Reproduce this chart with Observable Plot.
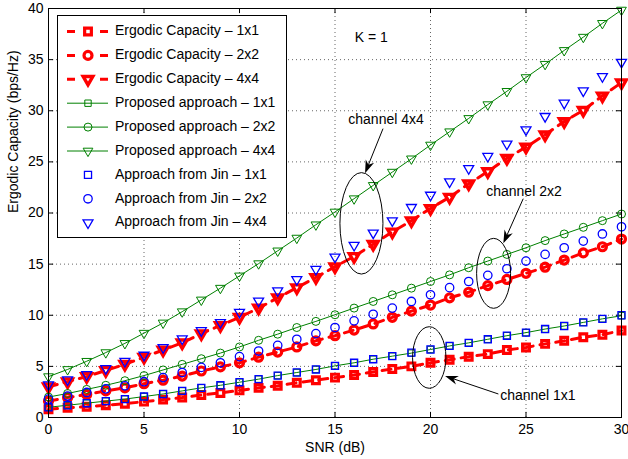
<!DOCTYPE html>
<html><head><meta charset="utf-8">
<script src="https://cdn.jsdelivr.net/npm/d3@7"></script>
<script src="https://cdn.jsdelivr.net/npm/@observablehq/plot@0.6"></script>
<style>
body{margin:0;background:#fff}
svg{font-family:"Liberation Sans",Arial,Helvetica,sans-serif}
</style>
</head><body><div id="chart"></div>
<script>
// ---- data ----
const snr = [0,1,2,3,4,5,6,7,8,9,10,11,12,13,14,15,16,17,18,19,20,21,22,23,24,25,26,27,28,29,30];
const ergodic1x1 = [0.8,0.95,1.05,1.2,1.35,1.55,1.75,1.95,2.2,2.4,2.65,2.9,3.1,3.4,3.65,3.9,4.15,4.45,4.75,5.0,5.35,5.65,5.95,6.2,6.6,6.85,7.2,7.5,7.85,8.1,8.5];
const ergodic2x2 = [1.6,1.95,2.25,2.6,2.9,3.3,3.65,4.05,4.55,4.95,5.35,5.9,6.4,6.9,7.5,8.0,8.55,9.15,9.8,10.4,11.0,11.7,12.25,12.9,13.5,14.1,14.7,15.4,16.1,16.7,17.45];
const ergodic4x4 = [3.0,3.5,4.0,4.6,5.2,5.9,6.6,7.3,8.2,9.0,9.8,10.7,11.7,12.7,13.7,14.75,15.75,16.95,18.15,19.25,20.45,21.55,22.85,24.05,25.35,26.45,27.65,28.95,30.05,31.45,32.75];
const proposed1x1 = [1.0,1.2,1.4,1.6,1.8,2.05,2.3,2.6,2.9,3.15,3.45,3.75,4.1,4.4,4.7,5.05,5.35,5.7,6.0,6.3,6.65,7.0,7.3,7.65,8.0,8.3,8.65,8.95,9.3,9.65,9.95];
const proposed2x2 = [2.0,2.35,2.75,3.15,3.6,4.1,4.65,5.2,5.75,6.3,6.9,7.55,8.15,8.8,9.4,10.05,10.7,11.35,12.0,12.65,13.3,13.95,14.65,15.3,15.95,16.6,17.3,17.95,18.6,19.25,19.9];
const proposed4x4 = [4.0,4.7,5.5,6.35,7.25,8.25,9.25,10.35,11.5,12.65,13.85,15.05,16.3,17.55,18.85,20.1,21.4,22.7,24.0,25.3,26.65,27.95,29.25,30.6,31.9,33.25,34.55,35.9,37.2,38.55,39.85];
const jin1x1 = [1.0,1.2,1.4,1.6,1.8,2.05,2.3,2.6,2.9,3.15,3.45,3.75,4.1,4.4,4.7,5.05,5.35,5.7,6.0,6.35,6.65,7.0,7.3,7.65,8.0,8.3,8.65,8.95,9.3,9.65,10.0];
const jin2x2 = [1.8,2.1,2.45,2.8,3.1,3.5,3.9,4.4,4.9,5.35,5.95,6.5,7.05,7.65,8.2,8.8,9.45,10.1,10.7,11.35,12.0,12.7,13.3,13.9,14.55,15.3,15.95,16.6,17.25,17.95,18.65];
const jin4x4 = [3.2,3.7,4.2,4.8,5.5,6.1,6.85,7.7,8.5,9.3,10.3,11.4,12.4,13.5,14.5,15.7,16.85,18.05,19.25,20.55,21.75,23.05,24.35,25.55,26.75,28.15,29.45,30.75,31.95,33.35,34.75];
const xTicks = [0,5,10,15,20,25,30];
const yTicks = [0,5,10,15,20,25,30,35,40];
const legendLabels = [
  "Ergodic Capacity \u2013 1x1","Ergodic Capacity \u2013 2x2","Ergodic Capacity \u2013 4x4",
  "Proposed approach \u2013 1x1","Proposed approach \u2013 2x2","Proposed approach \u2013 4x4",
  "Approach from Jin \u2013 1x1","Approach from Jin \u2013 2x2","Approach from Jin \u2013 4x4"];
const xLabel = "SNR (dB)";
const yLabel = "Ergodic Capacity (bps/Hz)";
const kLabel = "K = 1";
const channelLabels = ["channel 4x4","channel 2x2","channel 1x1"];

// ---- styles ----
const RED = "#ff0000", GREEN = "#008000", BLUE = "#0000ff";
const FS = 14;
const seriesDefs = [
  {values: ergodic1x1, color: RED, symbol: "square", r: 3.8, sw: 3.2, line: "dash", rotate: 0},
  {values: ergodic2x2, color: RED, symbol: "circle", r: 4, sw: 3.2, line: "dash", rotate: 0},
  {values: ergodic4x4, color: RED, symbol: "triangle", r: 3.6, sw: 3.4, line: "dash", rotate: 180},
  {values: proposed1x1, color: GREEN, symbol: "square", r: 3.6, sw: 1, line: "solid", rotate: 0},
  {values: proposed2x2, color: GREEN, symbol: "circle", r: 4.0, sw: 1, line: "solid", rotate: 0},
  {values: proposed4x4, color: GREEN, symbol: "triangle", r: 3.6, sw: 1, line: "solid", rotate: 180},
  {values: jin1x1, color: BLUE, symbol: "square", r: 4.0, sw: 1.3, line: null, rotate: 0},
  {values: jin2x2, color: BLUE, symbol: "circle", r: 4.2, sw: 1.3, line: null, rotate: 0},
  {values: jin4x4, color: BLUE, symbol: "triangle", r: 3.7, sw: 1.3, line: null, rotate: 180}
];
const rowsOf = (vals) => snr.map((s, i) => ({snr: s, cap: vals[i]}));

const seriesMarks = [];
for (const s of seriesDefs) {
  const data = rowsOf(s.values);
  if (s.line === "dash") seriesMarks.push(Plot.line(data, {x: "snr", y: "cap", stroke: s.color, strokeWidth: 3, strokeDasharray: "9,7"}));
  if (s.line === "solid") seriesMarks.push(Plot.line(data, {x: "snr", y: "cap", stroke: s.color, strokeWidth: 1}));
  seriesMarks.push(Plot.dot(data, {x: "snr", y: "cap", symbol: s.symbol, r: s.r, stroke: s.color, strokeWidth: s.sw, fill: "none", rotate: s.rotate}));
}

const gridStyle = {stroke: "#000", strokeOpacity: 0.6, strokeDasharray: "1,3"};
const plot = Plot.plot({
  width: 628, height: 459,
  marginLeft: 48, marginRight: 7, marginTop: 8, marginBottom: 42,
  style: {fontFamily: '"Liberation Sans",Arial,sans-serif', fontSize: FS + "px", background: "white", overflow: "visible"},
  x: {domain: [0, 30]},
  y: {domain: [0, 40]},
  marks: [
    Plot.gridX({ticks: xTicks, ...gridStyle}),
    Plot.gridY({ticks: yTicks, ...gridStyle}),
    Plot.axisX({ticks: xTicks, tickSize: 0, tickPadding: 7, label: null, fontSize: FS, fill: "#000"}),
    Plot.axisY({ticks: yTicks, tickSize: 0, tickPadding: 5, label: null, fontSize: FS, fill: "#000"}),
    Plot.ruleX(xTicks, {x: d => d, y1: 0, y2: 0.5, stroke: "#000"}),
    Plot.ruleX(xTicks, {x: d => d, y1: 39.5, y2: 40, stroke: "#000"}),
    Plot.ruleY(yTicks, {y: d => d, x1: 0, x2: 0.27, stroke: "#000"}),
    Plot.ruleY(yTicks, {y: d => d, x1: 29.73, x2: 30, stroke: "#000"}),
    ...seriesMarks,
    Plot.frame({stroke: "#000"}),
    Plot.text([xLabel], {text: d => d, frameAnchor: "bottom", dy: 34, fontSize: FS, fill: "#000"}),
    Plot.text([yLabel], {text: d => d, frameAnchor: "left", rotate: -90, dx: -35, fontSize: FS, fill: "#000"}),
    Plot.text([kLabel], {text: d => d, x: 16.9, y: 37.2, fontSize: FS, fill: "#000"})
  ]
});
document.getElementById("chart").appendChild(plot);

// ---- annotations (ellipses + arrows) through the plot's scales ----
const sx = plot.scale("x"), sy = plot.scale("y");
const X = v => sx.apply(v), Y = v => sy.apply(v);
const svg = d3.select(plot);
const ann = svg.append("g");
const annotations = [
  {label: channelLabels[0], tx: 17.7, ty: 29.0, a: [17.54, 28.2, 16.6, 23.85], e: [16.41, 18.94, 1.126, 4.96]},
  {label: channelLabels[1], tx: 24.92, ty: 22.0, a: [24.88, 21.35, 23.84, 16.99], e: [23.33, 14.05, 0.89, 3.42]},
  {label: channelLabels[2], tx: 25.65, ty: 2.05, a: [23.58, 2.25, 20.79, 4.01], e: [19.96, 5.82, 0.874, 3.01]}
];
function arrowHead(x1, y1, x2, y2) {
  const dx = x2 - x1, dy = y2 - y1, L = Math.hypot(dx, dy);
  const ux = dx / L, uy = dy / L, px = -uy, py = ux;
  const len = 13, w = 4.5, notch = 4;
  const bx = x2 - ux * len, by = y2 - uy * len;
  const nx = x2 - ux * (len - notch), ny = y2 - uy * (len - notch);
  ann.append("line").attr("x1", x1).attr("y1", y1).attr("x2", nx).attr("y2", ny).attr("stroke", "#000").attr("stroke-width", 1);
  ann.append("path").attr("d", `M${x2},${y2}L${bx + px * w},${by + py * w}L${nx},${ny}L${bx - px * w},${by - py * w}Z`).attr("fill", "#000");
}
for (const a of annotations) {
  ann.append("ellipse").attr("cx", X(a.e[0])).attr("cy", Y(a.e[1]))
    .attr("rx", Math.abs(X(a.e[0] + a.e[2]) - X(a.e[0]))).attr("ry", Math.abs(Y(a.e[1] + a.e[3]) - Y(a.e[1])))
    .attr("fill", "none").attr("stroke", "#000").attr("stroke-width", 1);
  arrowHead(X(a.a[0]), Y(a.a[1]), X(a.a[2]), Y(a.a[3]));
  ann.append("text").attr("x", X(a.tx)).attr("y", Y(a.ty)).attr("text-anchor", "middle")
    .attr("dominant-baseline", "middle").attr("font-size", FS).attr("fill", "#000").text(a.label);
}

// ---- legend ----
const lg = svg.append("g");
lg.append("rect").attr("x", 57.5).attr("y", 15.5).attr("width", 229).attr("height", 222)
  .attr("fill", "white").attr("stroke", "#000").attr("stroke-width", 1);
const symMap = {square: d3.symbolSquare, circle: d3.symbolCircle, triangle: d3.symbolTriangle};
seriesDefs.forEach((s, i) => {
  const y = 31.5 + i * 23.9;
  if (s.line === "dash") lg.append("line").attr("x1", 67).attr("x2", 108).attr("y1", y).attr("y2", y)
    .attr("stroke", s.color).attr("stroke-width", 3).attr("stroke-dasharray", "8,25");
  if (s.line === "solid") lg.append("line").attr("x1", 67).attr("x2", 108).attr("y1", y).attr("y2", y)
    .attr("stroke", s.color).attr("stroke-width", 1);
  lg.append("path").attr("d", d3.symbol(symMap[s.symbol], Math.PI * s.r * s.r)())
    .attr("transform", `translate(88,${y}) rotate(${s.rotate})`)
    .attr("fill", "none").attr("stroke", s.color).attr("stroke-width", s.sw);
  lg.append("text").attr("x", 115).attr("y", y).attr("text-anchor", "start").attr("dominant-baseline", "middle")
    .attr("font-size", FS).attr("fill", "#000").text(legendLabels[i]);
});
</script>
</body></html>
